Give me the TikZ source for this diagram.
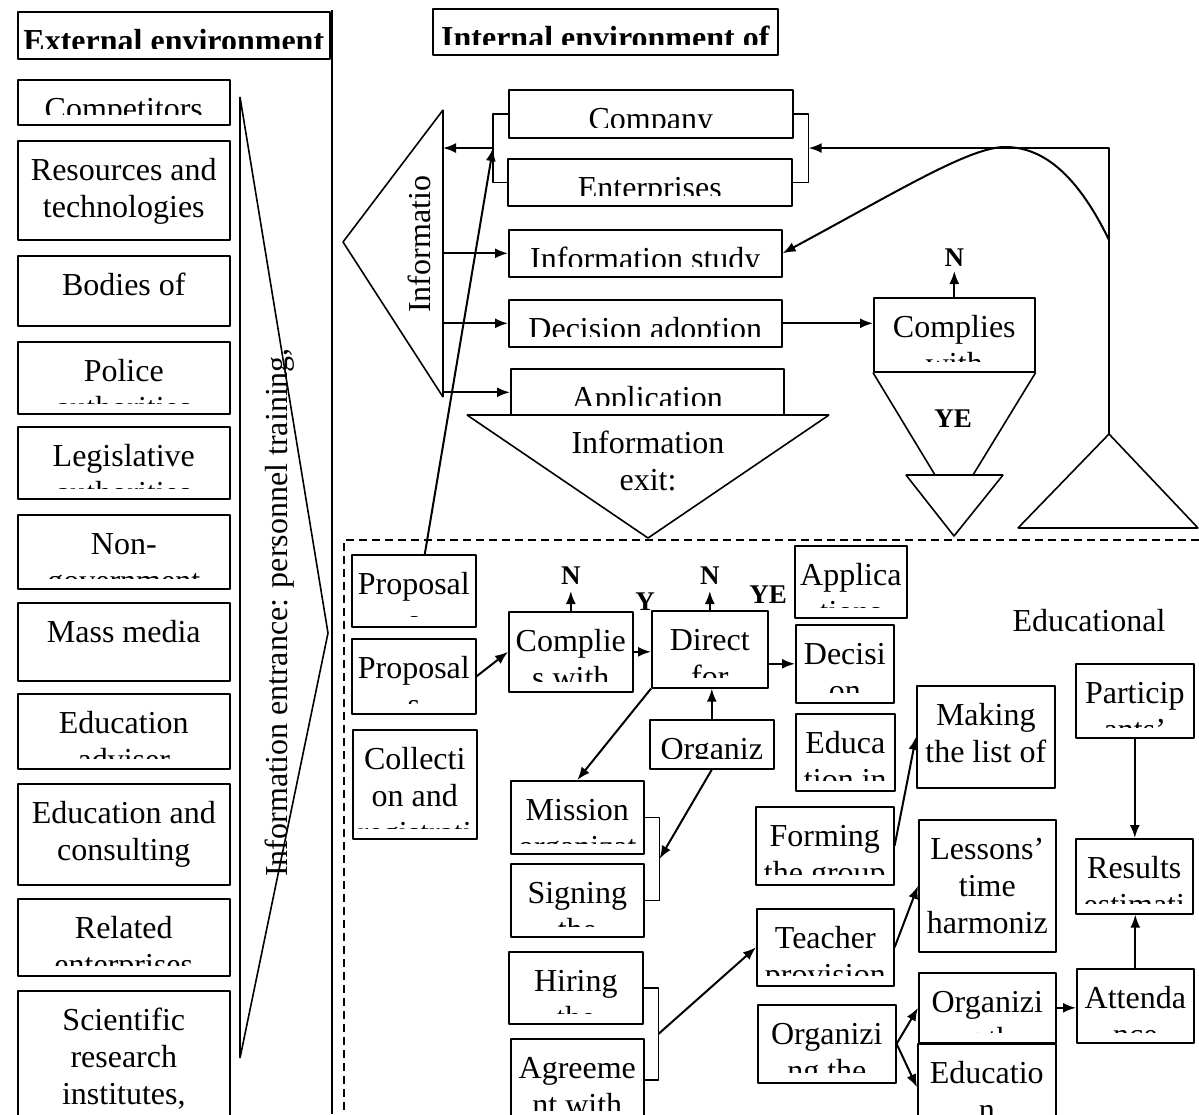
\documentclass[tikz,border=0pt]{standalone}
\usepackage{fontspec}
\setmainfont{Liberation Serif}
\usetikzlibrary{arrows.meta,positioning,calc}
\newcommand\bodyfont{\fontsize{32}{37}\selectfont}
\newcommand\labfont{\fontsize{27}{30}\selectfont\bfseries}
\tikzset{
  box/.style={draw, line width=1.6pt, inner sep=0pt, anchor=north west},
  txt/.style={path picture={
      \clip ([yshift=10pt]path picture bounding box.south west) rectangle (path picture bounding box.north east);
      \node[anchor=base, font=\bodyfont, inner sep=0pt] at ([yshift=-40pt]path picture bounding box.north) {\begin{tabular}[t]{@{}c@{}}#1\end{tabular}};}},
  arr/.style={line width=2pt, -{Latex[length=13pt,width=10pt]}},
  lnk/.style={line width=1.6pt},
  shp/.style={line width=1.6pt},
  lab/.style={font=\labfont, inner sep=0pt},
}
\begin{document}
\begin{tikzpicture}[x=1pt,y=1pt,line join=bevel]
	\useasboundingbox (0,0) rectangle (1199,-1114);
	%all text boxes: name/left/top/right/bottom/text
	\foreach \nm/\xa/\ya/\xb/\yb/\tx in {
		extH/17/11/329/58/{\bfseries External environment},
		cmp/17/79/229/124/{Competitors},
		rsc/17/140/229/239/{Resources and\\technologies},
		bod/17/255/229/325/{Bodies of},
		pol/17/341/229/413/{Police\\authorities},
		leg/17/426/229/498/{Legislative\\authorities},
		ngo/17/514/229/588/{Non-\\government},
		mass/17/602/229/680/{Mass media},
		adv/17/693/229/768/{Education\\adviser},
		cons/17/783/229/884/{Education and\\consulting},
		rel/17/898/229/975/{Related\\enterprises},
		sci/17/990/229/1140/{Scientific\\research\\institutes,},
		intH/432/8/777/54/{\bfseries Internal environment of},
		company/508/89/792/137/{Company},
		ent/507/158/791/205/{Enterprises},
		study/508/229/781/276/{Information study},
		adopt/508/299/781/346/{Decision adoption},
		appl/510/368/783/415/{Application},
		cR/873/297/1034/371/{Complies\\with},
		prop1/351/554/475/626/{Proposal\\s},
		prop2/351/638/475/713/{Proposal\\s},
		coll/352/729/476/838/{Collecti\\on and\\registrati},
		cE/508/611/632/691/{Complie\\s with},
		dir/651/610/767/687/{Direct\\for},
		appE/794/545/906/617/{Applica\\tions},
		decE/795/624/893/702/{Decisi\\on},
		eduE/795/713/894/790/{Educa\\tion in},
		org/649/719/773/768/{Organiz},
		mis/510/780/643/853/{Mission\\organizat},
		sig/510/863/643/936/{Signing\\the},
		hir/508/951/642/1023/{Hiring\\the},
		agr/510/1038/643/1120/{Agreeme\\nt with},
		form/755/806/893/884/{Forming\\the group},
		mk/916/685/1054/787/{Making\\the list of},
		part/1075/663/1193/737/{Particip\\ants’},
		les/918/819/1055/951/{Lessons’\\time\\harmoniz},
		res/1075/838/1192/913/{Results\\estimati},
		teach/756/908/893/985/{Teacher\\provision},
		orgL/757/1004/895/1082/{Organizi\\ng the},
		orgR/918/972/1055/1042/{Organizi\\ng the},
		att/1076/968/1193/1042/{Attenda\\nce},
		educ/917/1043/1055/1130/{Educatio\\n}}
	\node[box, txt={\tx}, minimum width={\xb-\xa}, minimum height={\yb-\ya}] (\nm) at (\xa,-\ya) {};
	%external side
	\draw[shp] (332,-10) -- (332,-1114);
	\draw[shp] (240,-97) -- (328,-633) -- (240,-1058) -- cycle;
	\node[rotate=90, anchor=base west, font=\bodyfont, inner sep=0pt] (entr) at (287,-877) {Information entrance: personnel training,};
	%internal side
	\draw[shp] (443,-110) coordinate (tTop) -- (343,-242) -- (443,-397) -- cycle;
	\node[rotate=90, anchor=base west, font=\bodyfont, inner sep=0pt] (inf) at (430,-313) {Informatio};
	\draw[lnk] (company.west) -- ++(-15,0) coordinate (brLt) |- (ent.west);
	\coordinate (brL) at ($(brLt)!0.5!(brLt |- ent.west)$);
	\draw[lnk] (company.east) -- ++(15,0) coordinate (brRt) |- (ent.east);
	\coordinate (brR) at ($(brRt)!0.5!(brRt |- ent.east)$);
	\draw[arr] (brL) -- (brL -| tTop);
	\foreach \b in {study,adopt,appl}
		\draw[arr] (tTop |- \b.west) -- (\b.west);
	\draw[arr] (adopt.east) -- (adopt.east -| cR.west);
	\node[lab, above=30pt of cR] (nR) {N};
	\draw[arr, shorten >=4pt] (cR.north) -- (nR.south);
	\draw[shp] (cR.south west) -- (935,-475);
	\draw[shp] (cR.south east) -- (973,-475);
	\node[lab, anchor=base] (yR) at (953,-427) {YE};
	\draw[shp] (906,-475) -- (1003,-475) -- (954,-536) -- cycle;
	%loop back
	\coordinate (lpB) at (1109,-434);
	\coordinate (lpM) at (1109,-240);
	\draw[shp] (lpB) -- (1198,-528) -- (1018,-528) -- cycle;
	\draw[arr] (lpB) -- (lpB |- brR) -- (brR);
	\draw[arr] (lpM) .. controls (1075,-170) and (1040,-147) .. (1005,-147) .. controls (970,-147) and (900,-190) .. (study.east);
	%information exit
	\draw[shp, fill=white] (467,-415) -- (829,-415) -- (648,-538) -- cycle;
	\node[anchor=base, align=center, font=\bodyfont, inner sep=0pt] (exit) at (648,-490) {Information\\exit:};
	\draw[arr] ([xshift=11pt]prop1.north) -- (brL);
	%educational block
	\draw[shp, dash pattern=on 8pt off 5pt] (1199,-540) -- (344,-540) -- (344,-1114);
	\node[anchor=base, font=\bodyfont, inner sep=0pt] (edu) at (1089,-631) {Educational};
	\node[lab, above=26pt of cE] (nE1) {N};
	\node[lab, above=25pt of dir] (nE2) {N};
	\node[lab, anchor=base] (yE) at (645,-610) {Y};
	\node[lab, anchor=base] (yeE) at (768,-603) {YE};
	\draw[arr, shorten >=6pt] (cE.north) -- (nE1.south);
	\draw[arr, shorten >=6pt] (dir.north) -- (nE2.south);
	\draw[arr] (prop2.east) -- (cE.west);
	\draw[arr] (cE.east) -- (cE.east -| dir.west);
	\draw[arr] (decE.west -| dir.east) -- (decE.west);
	\draw[arr] (org.north) -- (org.north |- dir.south);
	\draw[arr] (dir.south west) -- (mis.north);
	\draw[lnk] (mis.east) -- ++(15,0) coordinate (brMt) |- (sig.east);
	\coordinate (brM) at ($(brMt)!0.5!(brMt |- sig.east)$);
	\draw[arr] (org.south) -- (brM);
	\draw[lnk] (hir.east) -- ++(15,0) coordinate (brHt) |- (agr.east);
	\coordinate (brH) at ($(brHt)!0.5!(brHt |- agr.east)$);
	\draw[arr] (brH) -- (teach.west);
	\draw[arr] (form.east) -- (mk.west);
	\draw[arr] (teach.east) -- (les.west);
	\draw[arr] (orgL.east) -- (orgR.west);
	\draw[arr] (orgL.east) -- (educ.west);
	\draw[arr] (orgR.east) -- (orgR.east -| att.west);
	\draw[arr] (att.north) -- (att.north |- res.south);
	\draw[arr] (part.south) -- (part.south |- res.north);
\end{tikzpicture}
\end{document}
